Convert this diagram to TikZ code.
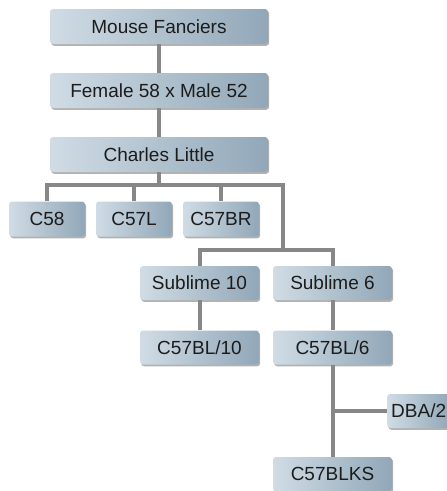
\documentclass[tikz,border=0pt]{standalone}
\usepackage{fontspec}
\setmainfont{Liberation Sans}
\usepackage{xcolor}
\usepackage{tikz}
\usetikzlibrary{shadows,positioning}
\definecolor{boxleft}{HTML}{D0DCE5}
\definecolor{boxright}{HTML}{91A7B8}
\definecolor{linkgray}{HTML}{878787}
\definecolor{ink}{HTML}{1C1C1C}
\tikzset{
  strainnode/.style={
    rounded corners=3pt,
    left color=boxleft,
    right color=boxright,
    text=ink,
    font=\fontsize{19}{22}\selectfont,
    minimum height=35pt,
    inner sep=0pt,
    drop shadow={shadow xshift=1.2pt,shadow yshift=-1.8pt,fill=black,opacity=0.3}
  },
  widenode/.style={strainnode,minimum width=218pt},
  smallnode/.style={strainnode,minimum width=76pt},
  midnode/.style={strainnode,minimum width=119pt,minimum height=34pt},
  link/.style={draw=linkgray,line width=4pt}
}

\begin{document}
\begin{tikzpicture}[x=1pt,y=-1pt]
  \useasboundingbox[fill=white] (0,0) rectangle (447,491);
  \node[widenode] (fanciers) at (159,26.5) {Mouse Fanciers};
  \node[widenode] (cross) at (159,90.5) {Female 58 x Male 52};
  \node[widenode] (little) at (159,154.5) {Charles Little};
  \node[smallnode] (c58) at (47,219) {C58};
  \node[smallnode] (c57l) at (134,219) {C57L};
  \node[smallnode] (c57br) at (221,219) {C57BR};
  \node[midnode] (sub10) at (199.5,283) {Sublime 10};
  \node[midnode] (sub6) at (332.5,283) {Sublime 6};
  \node[midnode] (bl10) at (199.5,347.5) {C57BL/10};
  \node[midnode] (bl6) at (332.5,347.5) {C57BL/6};
  \node[midnode] (blks) at (332.5,474) {C57BLKS};
  \node[strainnode, anchor=west, inner xsep=4pt, minimum height=34pt] (dba) at (387,411) {DBA/2};
  \coordinate (bus) at (159,185);
  \coordinate (split) at (283,250);
  \coordinate (dbajoin) at (332.5,411);
  \draw[link] (fanciers) -- (cross);
  \draw[link] (cross) -- (little);
  \draw[link] (little) -- (bus);
  \draw[link] (bus) -| (c58);
  \draw[link] (bus) -| (c57l);
  \draw[link] (bus) -| (c57br);
  \draw[link] (bus) -| (split);
  \draw[link] (split) -| (sub10);
  \draw[link] (split) -| (sub6);
  \draw[link] (sub10) -- (bl10);
  \draw[link] (sub6) -- (bl6);
  \draw[link] (bl6) -- (blks);
  \draw[link] (dbajoin) -- (dba);
\end{tikzpicture}
\end{document}
